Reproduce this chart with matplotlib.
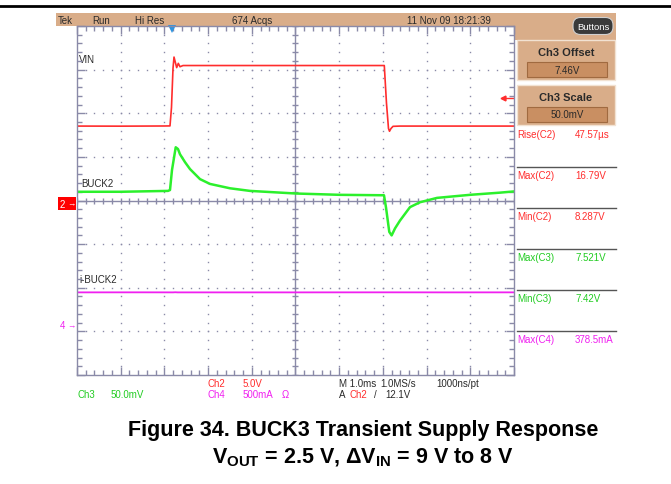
import numpy as np
import matplotlib.pyplot as plt
from matplotlib.patches import Rectangle, FancyBboxPatch

plt.rcParams['font.family'] = ['Liberation Sans', 'DejaVu Sans']
plt.rcParams['mathtext.fontset'] = 'custom'
plt.rcParams['mathtext.rm'] = 'Liberation Sans:bold'
plt.rcParams['mathtext.bf'] = 'Liberation Sans:bold'
plt.rcParams['mathtext.it'] = 'Liberation Sans:bold'

# scope channel settings: units per division and ground position (divisions)
CH2_SCALE, CH2_POS = 5.0, -0.07       # VIN, volts
CH3_SCALE, CH3_OFFSET = 0.05, 7.46    # BUCK2, volts (offset at centre)
CH4_SCALE, CH4_POS = 0.5, -2.86       # i-BUCK2, amps
TRIG_T, TRIG_LEVEL = -2.82, 12.1      # trigger time (ms) and level (V)

# VIN (Ch2) trace: time in ms, volts
vin_t = [-5.0, -4.0, -3.0, -2.872, -2.838, -2.803, -2.780, -2.719, -2.682, -2.643,
         -2.574, -1.0, 1.0, 2.032, 2.082, 2.128, 2.151, 2.185, 2.231, 2.39, 5.0]
vin_v = [8.88, 8.87, 8.89, 8.90, 11.0, 15.5, 16.79, 15.58, 16.07, 15.68,
         15.82, 15.82, 15.82, 15.82, 11.5, 8.6, 8.287, 8.6, 8.85, 8.88, 8.88]

# BUCK2 (Ch3) trace: time in ms, volts
buck_t = [-5.0, -4.0, -2.918, -2.872, -2.826, -2.741, -2.689, -2.643, -2.529, -2.414,
          -2.185, -1.957, -1.499, -1.041, 0.011, 1.018, 2.025, 2.071, 2.146, 2.2,
          2.277, 2.391, 2.62, 2.849, 3.238, 3.993, 4.68, 5.0]
buck_v = [7.470, 7.470, 7.471, 7.472, 7.495, 7.521, 7.519, 7.513, 7.504, 7.496,
          7.4845, 7.479, 7.474, 7.471, 7.468, 7.4665, 7.466, 7.452, 7.424, 7.42,
          7.428, 7.437, 7.4524, 7.458, 7.463, 7.4665, 7.469, 7.4704]

# i-BUCK2 (Ch4) trace: time in ms, amps
ibuck_t = [-5.0, -3.5, -2.8, -2.75, -2.7, 0.0, 2.1, 3.5, 5.0]
ibuck_i = [0.377, 0.3775, 0.377, 0.3785, 0.377, 0.377, 0.3775, 0.377, 0.3772]

meas_labels = ['Rise(C2)', 'Max(C2)', 'Min(C2)', 'Max(C3)', 'Min(C3)', 'Max(C4)']
meas_values = ['47.57\u00b5s', '16.79V', '8.287V', '7.521V', '7.42V', '378.5mA']

RED = '#ff2d2d'
GREEN = '#2cf02c'
GREEN_TXT = '#22cc22'
MAGENTA = '#f020f0'
GRID = '#8a8aa8'
TAN = '#d9ad89'
TAN_BOX = '#c98f62'
DARK = '#2a2a2a'
meas_colors = [RED, RED, RED, GREEN_TXT, GREEN_TXT, MAGENTA]

fig = plt.figure(figsize=(6.71, 4.85), dpi=100)

# background layer in pixel units for the screen furniture
bg = fig.add_axes([0, 0, 1, 1])
bg.set_xlim(0, 671)
bg.set_ylim(485, 0)
bg.axis('off')

bg.plot([0, 671], [7, 7], color='black', lw=2)

# status bar and side menu
bg.add_patch(Rectangle((56, 14), 560, 13, color=TAN, lw=0))
bg.add_patch(Rectangle((515, 14), 101, 27, color=TAN, lw=0))
for x, s in [(58, 'Tek'), (92, 'Run'), (135, 'Hi Res'), (232, '674 Acqs'),
             (407, '11 Nov 09 18:21:39')]:
    bg.text(x, 21, s, fontsize=7, color=DARK, va='center')
bg.add_patch(FancyBboxPatch((573, 18.5), 40, 17, boxstyle='round,pad=0,rounding_size=7.5',
                            fc='#3a3a3a', ec='#d0d0d0', lw=0.8))
bg.text(593, 27, 'Buttons', fontsize=6.8, color='white', ha='center', va='center')

for y0, title, val in [(41, 'Ch3 Offset', '7.46V'), (86, 'Ch3 Scale', '50.0mV')]:
    bg.add_patch(Rectangle((517, y0), 98, 40, fc=TAN, ec='#f2e2d2', lw=1))
    bg.add_patch(Rectangle((527, y0 + 22), 80, 15, fc=TAN_BOX, ec='#a06a40', lw=0.8))
    bg.text(566, y0 + 12, title, fontsize=8, fontweight='bold', color=DARK,
            ha='center', va='center')
    bg.text(567, y0 + 29.5, val, fontsize=7, color=DARK, ha='center', va='center')

# measurement readouts
for i, (lab, val, col) in enumerate(zip(meas_labels, meas_values, meas_colors)):
    y = 135 + i * 41
    bg.text(517, y, lab, fontsize=7, color=col, va='center')
    bg.text(575, y, val, fontsize=7, color=col, va='center')
    if i > 0:
        bg.plot([517, 616], [y - 8, y - 8], color='#555555', lw=1)

# trace labels
bg.text(79, 60, 'VIN', fontsize=7, color=DARK, va='center')
bg.text(81, 184, 'BUCK2', fontsize=7, color=DARK, va='center')
bg.text(79, 280, 'i-BUCK2', fontsize=7, color=DARK, va='center')

# bottom readouts
for x, y, s, c in [(208, 384, 'Ch2', RED), (243, 384, '5.0V', RED),
                   (339, 384, 'M 1.0ms', DARK), (380, 384, '1.0MS/s', DARK),
                   (436, 384, '1000ns/pt', DARK),
                   (77, 395, 'Ch3', GREEN_TXT), (111, 395, '50.0mV', GREEN_TXT),
                   (208, 395, 'Ch4', MAGENTA), (243, 395, '500mA', MAGENTA),
                   (282, 395, '\u03a9', MAGENTA),
                   (339, 395, 'A', DARK), (350, 395, 'Ch2', RED),
                   (374, 395, '/', DARK), (385, 395, '12.1V', DARK)]:
    bg.text(x, y, s, fontsize=7, color=c, va='center')

# caption
bg.text(363, 436, 'Figure 34. BUCK3 Transient Supply Response', fontsize=15.5,
        fontweight='bold', ha='center', va='baseline')
bg.text(363, 463, r'$V_{OUT}$ = 2.5 V, $\Delta V_{IN}$ = 9 V to 8 V', fontsize=15.5,
        fontweight='bold', ha='center', va='baseline')

# graticule: 10 x 8 divisions, 1 ms/div
ax = fig.add_axes([77 / 671, 1 - 376 / 485, 437 / 671, 349 / 485])
ax.set_xlim(-5, 5)
ax.set_ylim(-4, 4)
ax.patch.set_alpha(0)
for sp in ax.spines.values():
    sp.set_color(GRID)
    sp.set_linewidth(1)
ax.set_xticks(np.arange(-5, 6, 1))
ax.set_yticks(np.arange(-4, 5, 1))
ax.set_xticks(np.arange(-5, 5.01, 0.2), minor=True)
ax.set_yticks(np.arange(-4, 4.01, 0.2), minor=True)
ax.tick_params(which='both', direction='in', top=True, right=True, colors=GRID,
               labelbottom=False, labelleft=False, width=1)
ax.tick_params(which='major', length=6)
ax.tick_params(which='minor', length=3.5)

# dotted division lines
steps_x = np.arange(-5, 5.01, 0.2)
steps_y = np.arange(-4, 4.01, 0.2)
for gx in range(-4, 5):
    if gx != 0:
        ax.plot(np.full_like(steps_y, gx), steps_y, ls='none', marker='s', ms=1,
                mew=0, color=GRID)
for gy in range(-3, 4):
    if gy != 0:
        ax.plot(steps_x, np.full_like(steps_x, gy), ls='none', marker='s', ms=1,
                mew=0, color=GRID)

# centre cross with minor ticks
ax.axhline(0, color=GRID, lw=1)
ax.axvline(0, color=GRID, lw=1)
ax.plot(steps_x, np.zeros_like(steps_x), ls='none', marker='|', ms=5, mew=1, color=GRID)
ax.plot(np.zeros_like(steps_y), steps_y, ls='none', marker='_', ms=5, mew=1, color=GRID)

# waveforms converted to screen divisions
vin_div = np.array(vin_v) / CH2_SCALE + CH2_POS
buck_div = (np.array(buck_v) - CH3_OFFSET) / CH3_SCALE
ibuck_div = np.array(ibuck_i) / CH4_SCALE + CH4_POS

ax.plot(ibuck_t, ibuck_div, color=MAGENTA, lw=1.3)
ax.plot(buck_t, buck_div, color=GREEN, lw=1.8)
ax.plot(vin_t, vin_div, color=RED, lw=1.2)

# channel ground markers on the left edge
yax = ax.get_yaxis_transform()
ax.add_patch(Rectangle((-0.0435, CH2_POS - 0.14), 0.0412, 0.28, transform=yax,
                       color='#ff0000', lw=0, clip_on=False))
ax.text(-0.033, CH2_POS, '2', transform=yax, fontsize=7, color='white',
        ha='center', va='center', clip_on=False)
ax.text(-0.012, CH2_POS, '\u2192', transform=yax, fontsize=6, color='white',
        ha='center', va='center', clip_on=False)
ax.text(-0.033, CH4_POS, '4', transform=yax, fontsize=7, color=MAGENTA,
        ha='center', va='center', clip_on=False)
ax.text(-0.012, CH4_POS, '\u2192', transform=yax, fontsize=6, color=MAGENTA,
        ha='center', va='center', clip_on=False)

# trigger level (right edge) and trigger position (top edge)
trig_div = TRIG_LEVEL / CH2_SCALE + CH2_POS
ax.plot([0.975, 0.998], [trig_div, trig_div], transform=yax, color=RED, lw=1,
        clip_on=False)
ax.plot([0.975], [trig_div], transform=yax, marker='<', ms=3.5, color=RED,
        clip_on=False)
ax.plot([TRIG_T], [0.99], transform=ax.get_xaxis_transform(), marker='v', ms=6,
        color='#2f95e0', mew=0, clip_on=False)

fig.savefig('out.png', dpi=100)
